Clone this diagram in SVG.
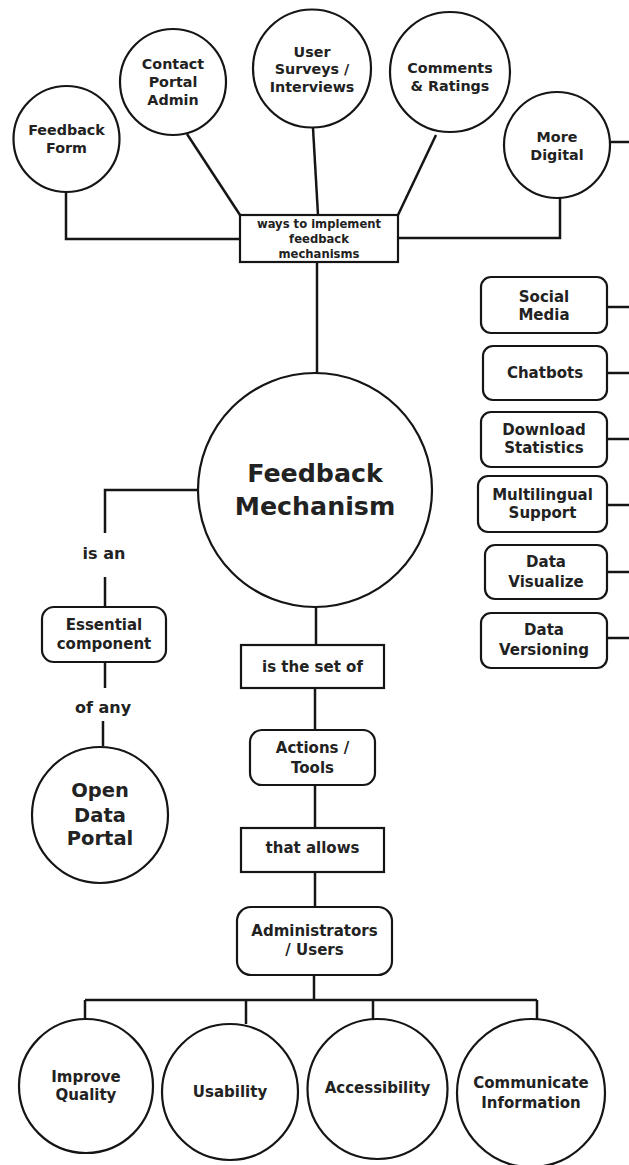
<svg xmlns="http://www.w3.org/2000/svg" width="629" height="1165" viewBox="0 0 629 1165">
  <style>
    .shape { fill: #ffffff; stroke: #151515; stroke-width: 2.2; }
    .conn path { fill: none; stroke: #151515; stroke-width: 2.5; }
    text { font-family: "DejaVu Sans", "Liberation Sans", sans-serif; font-weight: bold; fill: #222222; text-anchor: middle; }
    .s11 { font-size: 11.6px; }
    .s14 { font-size: 14.3px; }
    .s15 { font-size: 15px; }
    .s16 { font-size: 16px; }
    .s19 { font-size: 19.5px; }
    .s25 { font-size: 25.3px; }
  </style>
  <rect width="629" height="1165" fill="#ffffff"/>

  <!-- connectors -->
  <g id="connectors" class="conn">
    <path d="M66 192 V239 H240"/>
    <path d="M187 134 L240 215"/>
    <path d="M313 128 L318 215"/>
    <path d="M436 135 L398 215"/>
    <path d="M560 198 V238 H398"/>
    <path d="M610 142 H629"/>
    <path d="M317 262 V373"/>
    <path d="M607 307 H629"/>
    <path d="M607 373 H629"/>
    <path d="M607 439 H629"/>
    <path d="M607 505 H629"/>
    <path d="M607 572 H629"/>
    <path d="M607 638 H629"/>
    <path d="M197 490 H105 V533"/>
    <path d="M105 577 V607"/>
    <path d="M105 662 V688"/>
    <path d="M103 721 V746"/>
    <path d="M316 607 V645"/>
    <path d="M315 688 V730"/>
    <path d="M315 785 V828"/>
    <path d="M315 872 V907"/>
    <path d="M314 975 V1000"/>
    <path d="M85 1000 H537"/>
    <path d="M85 1000 V1019"/>
    <path d="M246 1000 V1024"/>
    <path d="M373 1000 V1019"/>
    <path d="M537 1000 V1019"/>
  </g>

  <!-- edge labels -->
  <g id="label-is-an"><text class="s16" x="104" y="559">is an</text></g>
  <g id="label-of-any"><text class="s16" x="103" y="713">of any</text></g>

  <!-- top ring of feedback channels -->
  <g id="feedback-form">
    <circle class="shape" cx="66.5" cy="139" r="53"/>
    <text class="s14" x="66.5" y="135">Feedback</text>
    <text class="s14" x="66.5" y="153">Form</text>
  </g>
  <g id="contact-admin">
    <circle class="shape" cx="173" cy="82" r="53"/>
    <text class="s14" x="173" y="69">Contact</text>
    <text class="s14" x="173" y="87">Portal</text>
    <text class="s14" x="173" y="105">Admin</text>
  </g>
  <g id="user-surveys">
    <circle class="shape" cx="312" cy="68.5" r="59"/>
    <text class="s14" x="312" y="57">User</text>
    <text class="s14" x="312" y="74">Surveys /</text>
    <text class="s14" x="312" y="92">Interviews</text>
  </g>
  <g id="comments-ratings">
    <circle class="shape" cx="450" cy="72" r="60"/>
    <text class="s14" x="450" y="73">Comments</text>
    <text class="s14" x="450" y="91">&amp; Ratings</text>
  </g>
  <g id="more-digital">
    <circle class="shape" cx="557" cy="145" r="53"/>
    <text class="s14" x="557" y="142">More</text>
    <text class="s14" x="557" y="160">Digital</text>
  </g>
  <g id="ways-box">
    <rect class="shape" x="240" y="215" width="158" height="47"/>
    <text class="s11" x="319" y="228">ways to implement</text>
    <text class="s11" x="319" y="243">feedback</text>
    <text class="s11" x="319" y="258">mechanisms</text>
  </g>

  <!-- digital channels -->
  <g id="social-media">
    <rect class="shape" x="481" y="277" width="126" height="56" rx="10"/>
    <text class="s15" x="544" y="302">Social</text>
    <text class="s15" x="544" y="320">Media</text>
  </g>
  <g id="chatbots">
    <rect class="shape" x="483" y="346" width="124" height="54" rx="10"/>
    <text class="s15" x="545" y="378">Chatbots</text>
  </g>
  <g id="download-stats">
    <rect class="shape" x="481" y="412" width="126" height="55" rx="10"/>
    <text class="s15" x="544" y="435">Download</text>
    <text class="s15" x="544" y="453">Statistics</text>
  </g>
  <g id="multilingual">
    <rect class="shape" x="478" y="476" width="129" height="56" rx="10"/>
    <text class="s15" x="542.5" y="500">Multilingual</text>
    <text class="s15" x="542.5" y="518">Support</text>
  </g>
  <g id="data-visualize">
    <rect class="shape" x="485" y="545" width="122" height="54" rx="10"/>
    <text class="s15" x="546" y="567">Data</text>
    <text class="s15" x="546" y="587">Visualize</text>
  </g>
  <g id="data-versioning">
    <rect class="shape" x="481" y="613" width="126" height="55" rx="10"/>
    <text class="s15" x="544" y="635">Data</text>
    <text class="s15" x="544" y="655">Versioning</text>
  </g>

  <!-- central concept -->
  <g id="feedback-mechanism">
    <circle class="shape" cx="315" cy="490" r="117"/>
    <text class="s25" x="315" y="482">Feedback</text>
    <text class="s25" x="315" y="515">Mechanism</text>
  </g>

  <!-- left branch -->
  <g id="essential-component">
    <rect class="shape" x="42" y="607" width="124" height="55" rx="12"/>
    <text class="s15" x="104" y="630">Essential</text>
    <text class="s15" x="104" y="649">component</text>
  </g>
  <g id="open-data-portal">
    <circle class="shape" cx="100" cy="815" r="68"/>
    <text class="s19" x="100" y="797">Open</text>
    <text class="s19" x="100" y="822">Data</text>
    <text class="s19" x="100" y="845">Portal</text>
  </g>

  <!-- lower chain -->
  <g id="is-the-set-of">
    <rect class="shape" x="241" y="645" width="143" height="43"/>
    <text class="s15" x="312.5" y="672">is the set of</text>
  </g>
  <g id="actions-tools">
    <rect class="shape" x="250" y="730" width="125" height="55" rx="12"/>
    <text class="s15" x="312.5" y="753">Actions /</text>
    <text class="s15" x="312.5" y="773">Tools</text>
  </g>
  <g id="that-allows">
    <rect class="shape" x="241" y="828" width="143" height="44"/>
    <text class="s15" x="312.5" y="853">that allows</text>
  </g>
  <g id="administrators-users">
    <rect class="shape" x="237" y="907" width="155" height="68" rx="14"/>
    <text class="s15" x="314.5" y="936">Administrators</text>
    <text class="s15" x="314.5" y="955">/ Users</text>
  </g>

  <!-- outcomes -->
  <g id="improve-quality">
    <circle class="shape" cx="86" cy="1086" r="67"/>
    <text class="s15" x="86" y="1082">Improve</text>
    <text class="s15" x="86" y="1100">Quality</text>
  </g>
  <g id="usability">
    <circle class="shape" cx="230" cy="1092" r="68"/>
    <text class="s15" x="230" y="1097">Usability</text>
  </g>
  <g id="accessibility">
    <circle class="shape" cx="377.5" cy="1089" r="70"/>
    <text class="s15" x="377.5" y="1093">Accessibility</text>
  </g>
  <g id="communicate-information">
    <circle class="shape" cx="531" cy="1093" r="74"/>
    <text class="s15" x="531" y="1088">Communicate</text>
    <text class="s15" x="531" y="1108">Information</text>
  </g>
</svg>
